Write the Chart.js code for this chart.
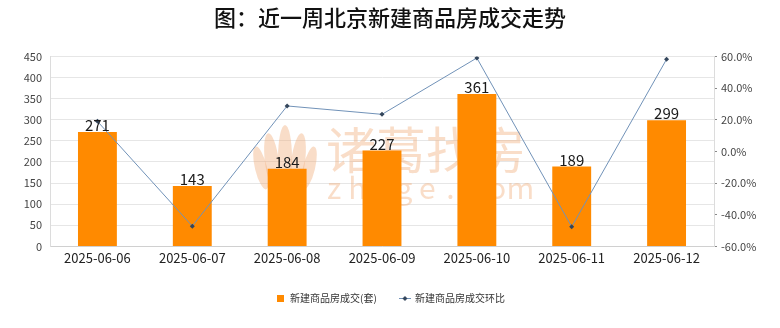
<!DOCTYPE html>
<html>
<head>
<meta charset="utf-8">
<script src="https://cdn.jsdelivr.net/npm/chart.js@4"></script>
<style>
  html, body { margin: 0; padding: 0; background: #fff; }
  #wrap { width: 780px; height: 328px; }
</style>
</head>
<body>
<div id="wrap"><canvas id="c"></canvas></div>
<script>
// 近一周北京新建商品房成交
const dates = ["2025-06-06", "2025-06-07", "2025-06-08", "2025-06-09", "2025-06-10", "2025-06-11", "2025-06-12"];
const deals = [271, 143, 184, 227, 361, 189, 299];          // 成交套数
const ratio = [19.0, -47.2, 28.7, 23.4, 59.0, -47.6, 58.2]; // 环比 %

const FONT = '"Noto Sans CJK SC", "Noto Sans", sans-serif';
const BAR_COLOR = "#ff8a00";
const LINE_COLOR = "#7192b8";
const POINT_COLOR = "#34465c";

// 图例小图标
function legendIcon(kind) {
  const cv = document.createElement("canvas");
  if (kind === "bar") {
    cv.width = 7; cv.height = 7;
    const g = cv.getContext("2d");
    g.fillStyle = BAR_COLOR;
    g.fillRect(0, 0, 7, 7);
  } else {
    cv.width = 12; cv.height = 8;
    const g = cv.getContext("2d");
    g.strokeStyle = LINE_COLOR;
    g.lineWidth = 1;
    g.beginPath(); g.moveTo(0, 4.5); g.lineTo(12, 4.5); g.stroke();
    g.fillStyle = POINT_COLOR;
    g.beginPath(); g.moveTo(6, 2); g.lineTo(8.5, 4.5); g.lineTo(6, 7); g.lineTo(3.5, 4.5); g.closePath(); g.fill();
  }
  return cv;
}

// 水印
const watermark = {
  id: "watermark",
  beforeDatasetsDraw(chart) {
    const { ctx } = chart;
    ctx.save();
    ctx.fillStyle = "rgba(240, 175, 125, 0.42)";
    // 花瓣标志
    const cx = 285, cy = 158;
    [[-24, 10, 6, 22], [-13, 4, 7, 29], [0, 0, 7, 33], [13, 4, 7, 29], [24, 10, 6, 22]].forEach(([dx, dy, rx, ry]) => {
      ctx.beginPath();
      ctx.ellipse(cx + dx, cy + dy, rx, ry, dx * 0.01, 0, Math.PI * 2);
      ctx.fill();
    });
    ctx.font = "50px " + FONT;
    ctx.textBaseline = "middle";
    ctx.fillText("诸葛找房", 326, 150);
    ctx.font = "30px " + FONT;
    ctx.textAlign = "center";
    ctx.textBaseline = "alphabetic";
    "zhuge.com".split("").forEach((ch, i) => ctx.fillText(ch, 334 + i * 23.3, 199));
    ctx.restore();
  }
};

// 柱顶数值
const barValues = {
  id: "barValues",
  afterDatasetsDraw(chart) {
    const { ctx } = chart;
    const meta = chart.getDatasetMeta(0);
    ctx.save();
    ctx.font = "15px " + FONT;
    ctx.fillStyle = "#1a1a1a";
    ctx.textAlign = "center";
    ctx.textBaseline = "bottom";
    meta.data.forEach((bar, i) => {
      ctx.fillText(String(deals[i]), bar.x, bar.y + 1);
    });
    ctx.restore();
  }
};

new Chart(document.getElementById("c"), {
  type: "bar",
  data: {
    labels: dates,
    datasets: [
      {
        type: "bar",
        label: "新建商品房成交(套)",
        data: deals,
        backgroundColor: BAR_COLOR,
        yAxisID: "y",
        categoryPercentage: 1,
        barPercentage: 0.41,
        order: 2
      },
      {
        type: "line",
        label: "新建商品房成交环比",
        data: ratio,
        borderColor: LINE_COLOR,
        borderWidth: 1,
        pointStyle: "rectRot",
        pointRadius: 2.5,
        pointBackgroundColor: POINT_COLOR,
        pointBorderColor: POINT_COLOR,
        pointBorderWidth: 0,
        tension: 0,
        yAxisID: "y1",
        order: 1
      }
    ]
  },
  options: {
    responsive: true,
    maintainAspectRatio: false,
    animation: false,
    layout: { padding: { left: 0, right: 0, top: 0, bottom: 15 } },
    plugins: {
      title: {
        display: true,
        text: "图：近一周北京新建商品房成交走势",
        color: "#111",
        font: { family: FONT, size: 22, weight: "500" },
        padding: { top: 4, bottom: 26 }
      },
      legend: {
        position: "bottom",
        labels: {
          usePointStyle: true,
          color: "#333",
          font: { family: FONT, size: 10 },
          padding: 23,
          generateLabels(chart) {
            return chart.data.datasets.map((ds, i) => ({
              text: ds.label,
              pointStyle: legendIcon(i === 0 ? "bar" : "line"),
              fillStyle: "transparent",
              strokeStyle: "transparent",
              lineWidth: 0,
              fontColor: "#333",
              datasetIndex: i
            }));
          }
        }
      },
      tooltip: { enabled: false }
    },
    scales: {
      x: {
        grid: { display: false, drawTicks: false },
        border: { color: "#d0d0d0" },
        ticks: { color: "#222", font: { family: FONT, size: 13 }, padding: 4, maxRotation: 0 }
      },
      y: {
        position: "left",
        min: 0,
        max: 450,
        ticks: { stepSize: 50, color: "#444", font: { family: FONT, size: 11 }, padding: 8 },
        grid: { color: "#e6e6e6", drawTicks: false },
        border: { color: "#dcdcdc" },
        afterFit(scale) { scale.width = 50; }
      },
      y1: {
        position: "right",
        min: -60,
        max: 60,
        ticks: {
          stepSize: 10,
          color: "#444",
          font: { family: FONT, size: 11 },
          padding: 4,
          callback: v => (v % 20 === 0 ? v.toFixed(1) + "%" : "")
        },
        grid: { drawOnChartArea: false, color: "#888", tickLength: 3 },
        border: { color: "#dcdcdc" },
        afterFit(scale) { scale.width = 66; }
      }
    }
  },
  plugins: [watermark, barValues]
});
</script>
</body>
</html>
